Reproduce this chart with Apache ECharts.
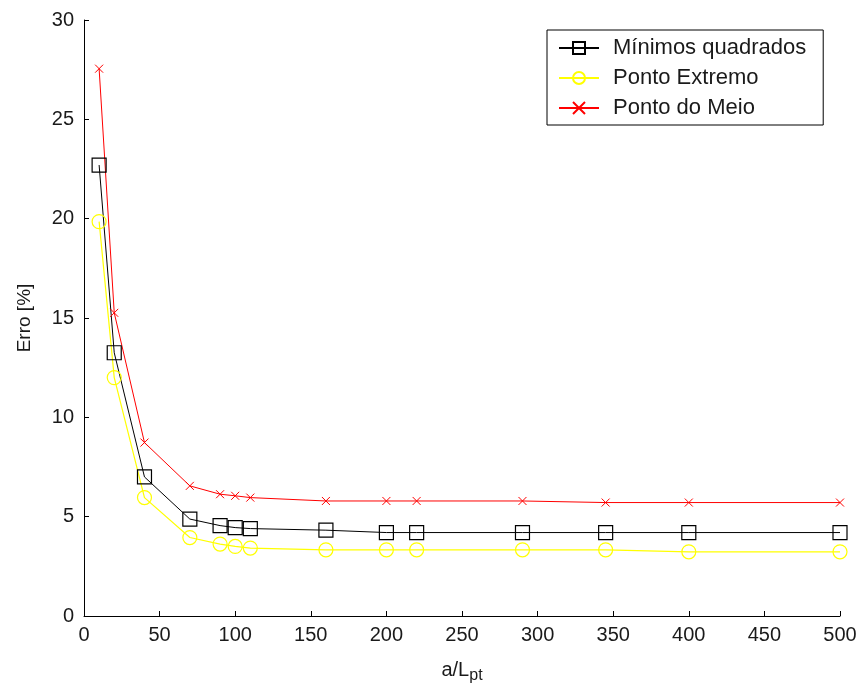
<!DOCTYPE html>
<html>
<head>
<meta charset="utf-8">
<script src="https://cdn.jsdelivr.net/npm/echarts@6/dist/echarts.min.js"></script>
<style>
  html, body { margin: 0; padding: 0; background: #fff; }
  #chart { width: 862px; height: 689px; }
</style>
</head>
<body>
<div id="chart"></div>
<script>
var chart = echarts.init(document.getElementById('chart'));

// eixo x: a/Lpt
var xValues = [10, 20, 40, 70, 90, 100, 110, 160, 200, 220, 290, 345, 400, 500];
// erro [%] de cada método
var minimosQuadrados = [22.7, 13.25, 7.0, 4.88, 4.55, 4.45, 4.4, 4.32, 4.2, 4.2, 4.2, 4.2, 4.2, 4.2];
var pontoExtremo     = [19.85, 12.0, 5.96, 3.95, 3.62, 3.5, 3.42, 3.33, 3.33, 3.33, 3.33, 3.33, 3.23, 3.23];
var pontoMeio        = [27.55, 15.26, 8.73, 6.55, 6.13, 6.05, 5.96, 5.79, 5.79, 5.79, 5.79, 5.71, 5.71, 5.71];

function pares(ys) {
  return xValues.map(function (x, i) { return [x, ys[i]]; });
}

var fonte = 'Arial, "Liberation Sans", sans-serif';
var X_PATH = 'path://M0,0L10,10M10,0L0,10';

var option = {
  animation: false,
  backgroundColor: '#fff',
  textStyle: { fontFamily: fonte },
  grid: { left: 84, right: 22, top: 20, bottom: 72 },
  legend: {
    orient: 'vertical',
    left: 547,
    top: 30,
    padding: [7, 17, 6, 11],
    itemWidth: 40,
    itemHeight: 15,
    itemGap: 8,
    borderColor: '#000',
    borderWidth: 1,
    backgroundColor: '#fff',
    textStyle: { fontSize: 22, lineHeight: 22, color: '#1a1a1a', fontFamily: fonte, padding: [0, 0, 0, 9] },
    data: ['Mínimos quadrados', 'Ponto Extremo', 'Ponto do Meio']
  },
  xAxis: {
    type: 'value',
    min: 0, max: 500, interval: 50,
    name: '{a|a/L}{s|pt}',
    nameLocation: 'middle',
    nameGap: 40,
    nameTextStyle: {
      rich: {
        a: { fontSize: 20, color: '#1a1a1a', fontFamily: fonte },
        s: { fontSize: 16, color: '#1a1a1a', fontFamily: fonte, padding: [12, 0, 0, 0] }
      }
    },
    splitLine: { show: false },
    axisLine: { lineStyle: { color: '#000', width: 1 } },
    axisTick: { inside: true, length: 5, lineStyle: { color: '#000' } },
    axisLabel: { fontSize: 20, color: '#1a1a1a', margin: 9 }
  },
  yAxis: {
    type: 'value',
    min: 0, max: 30, interval: 5,
    name: 'Erro [%]',
    nameLocation: 'middle',
    nameGap: 50,
    nameTextStyle: { fontSize: 19, color: '#1a1a1a' },
    splitLine: { show: false },
    axisLine: { show: true, lineStyle: { color: '#000', width: 1 } },
    axisTick: { show: true, inside: true, length: 5, lineStyle: { color: '#000' } },
    axisLabel: { fontSize: 20, color: '#1a1a1a', margin: 10 }
  },
  series: [
    {
      name: 'Mínimos quadrados',
      type: 'line',
      data: pares(minimosQuadrados),
      symbol: 'rect',
      symbolSize: 14,
      lineStyle: { color: '#000', width: 1 },
      itemStyle: { color: 'rgba(0,0,0,0)', borderColor: '#000', borderWidth: 1.2 }
    },
    {
      name: 'Ponto Extremo',
      type: 'line',
      data: pares(pontoExtremo),
      symbol: 'circle',
      symbolSize: 14,
      lineStyle: { color: '#ffff00', width: 1.2 },
      itemStyle: { color: 'rgba(0,0,0,0)', borderColor: '#ffff00', borderWidth: 1.2 }
    },
    {
      name: 'Ponto do Meio',
      type: 'line',
      data: pares(pontoMeio),
      symbol: X_PATH,
      symbolSize: 8,
      lineStyle: { color: '#ff0000', width: 1 },
      itemStyle: { color: '#ff0000', borderColor: '#ff0000', borderWidth: 1 }
    }
  ]
};
chart.setOption(option);
</script>
</body>
</html>
